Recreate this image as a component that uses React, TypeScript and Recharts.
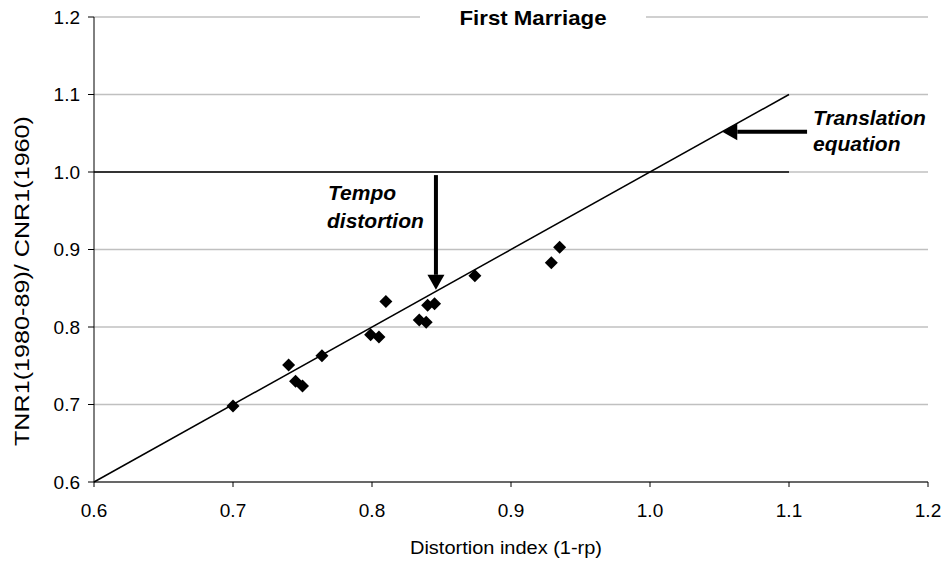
import {
  ComposedChart,
  Scatter,
  XAxis,
  YAxis,
  CartesianGrid,
  ReferenceLine,
  Customized
} from 'recharts';

// distortion index (1-rp) per country, and TNR1(1980-89)/CNR1(1960)
const distortionIndex = [0.7, 0.74, 0.745, 0.75, 0.764, 0.799, 0.805, 0.81, 0.834, 0.839, 0.84, 0.845, 0.874, 0.929, 0.935];
const tnrRatio = [0.698, 0.751, 0.73, 0.724, 0.763, 0.79, 0.787, 0.833, 0.809, 0.806, 0.828, 0.83, 0.866, 0.883, 0.903];

const axisTicks = [0.6, 0.7, 0.8, 0.9, 1.0, 1.1, 1.2];

// translation equation line and the 1.0 reference level
const translationLine = [{ x: 0.6, y: 0.6 }, { x: 1.1, y: 1.1 }];
const levelLine = [{ x: 0.6, y: 1.0 }, { x: 1.1, y: 1.0 }];
// annotation arrows (from -> to)
const tempoArrow = [{ x: 0.846, y: 0.996 }, { x: 0.846, y: 0.848 }];
const translationArrow = [{ x: 1.113, y: 1.052 }, { x: 1.052, y: 1.052 }];

const points = distortionIndex.map((x, i) => ({ x, y: tnrRatio[i] }));

const FONT = '"Liberation Sans", Arial, sans-serif';

const Diamond = (props: any) => {
  const { cx, cy } = props;
  const r = 6.5;
  return <polygon points={`${cx},${cy - r} ${cx + r},${cy} ${cx},${cy + r} ${cx - r},${cy}`} fill="#000" />;
};

const Arrow = (props: any) => {
  const { x1, y1, x2, y2 } = props;
  const dx = x2 - x1;
  const dy = y2 - y1;
  const len = Math.sqrt(dx * dx + dy * dy) || 1;
  const ux = dx / len;
  const uy = dy / len;
  const head = 15;
  const half = 8.5;
  const bx = x2 - ux * head;
  const by = y2 - uy * head;
  return (
    <g>
      <line x1={x1} y1={y1} x2={bx} y2={by} stroke="#000" strokeWidth={4} />
      <polygon
        points={`${x2},${y2} ${bx - uy * half},${by + ux * half} ${bx + uy * half},${by - ux * half}`}
        fill="#000"
      />
    </g>
  );
};

const Annotations = () => (
  <g fontFamily={FONT} fill="#000">
    <rect x={420} y={4} width={226} height={26} fill="#fff" />
    <text x={533} y={25} textAnchor="middle" fontSize={21} fontWeight="bold" textLength={147} lengthAdjust="spacingAndGlyphs">
      First Marriage
    </text>
    <text x={328} y={200} fontSize={21} fontWeight="bold" fontStyle="italic">Tempo</text>
    <text x={327} y={228} fontSize={21} fontWeight="bold" fontStyle="italic">distortion</text>
    <text x={813} y={125} fontSize={21} fontWeight="bold" fontStyle="italic">Translation</text>
    <text x={813} y={151} fontSize={21} fontWeight="bold" fontStyle="italic">equation</text>
    <text x={506} y={554} textAnchor="middle" fontSize={18} textLength={192} lengthAdjust="spacingAndGlyphs">
      Distortion index (1-rp)
    </text>
    <text
      x={29}
      y={281}
      textAnchor="middle"
      fontSize={21}
      textLength={330}
      lengthAdjust="spacingAndGlyphs"
      transform="rotate(-90 29 281)"
    >
      TNR1(1980-89)/ CNR1(1960)
    </text>
  </g>
);

const fmt = (v: number) => v.toFixed(1);

export default function App() {
  return (
    <div style={{ position: 'absolute', left: 0, top: 0, width: 947, height: 562, background: '#fff' }}>
      <ComposedChart
        width={947}
        height={562}
        data={points}
        margin={{ top: 17, right: 19, left: 34, bottom: 50 }}
      >
        <CartesianGrid vertical={false} stroke="#c0c0c0" strokeWidth={1.5} />
        <XAxis
          type="number"
          dataKey="x"
          domain={[0.6, 1.2]}
          ticks={axisTicks}
          tickFormatter={fmt}
          height={30}
          tickSize={5}
          tickMargin={17}
          axisLine={{ stroke: '#000' }}
          tickLine={{ stroke: '#000' }}
          tick={{ fill: '#000', fontSize: 19, fontFamily: FONT }}
          allowDataOverflow
        />
        <YAxis
          type="number"
          dataKey="y"
          domain={[0.6, 1.2]}
          ticks={axisTicks}
          tickFormatter={fmt}
          width={60}
          tickSize={6}
          tickMargin={8}
          axisLine={{ stroke: '#000' }}
          tickLine={{ stroke: '#000' }}
          tick={{ fill: '#000', fontSize: 19, fontFamily: FONT }}
          allowDataOverflow
        />
        <Customized component={Annotations} />
        <ReferenceLine segment={levelLine} stroke="#000" strokeWidth={1.5} />
        <ReferenceLine segment={translationLine} stroke="#000" strokeWidth={1.5} />
        <ReferenceLine segment={tempoArrow} shape={Arrow} />
        <ReferenceLine segment={translationArrow} shape={Arrow} />
        <Scatter dataKey="y" shape={Diamond} isAnimationActive={false} />
      </ComposedChart>
    </div>
  );
}
